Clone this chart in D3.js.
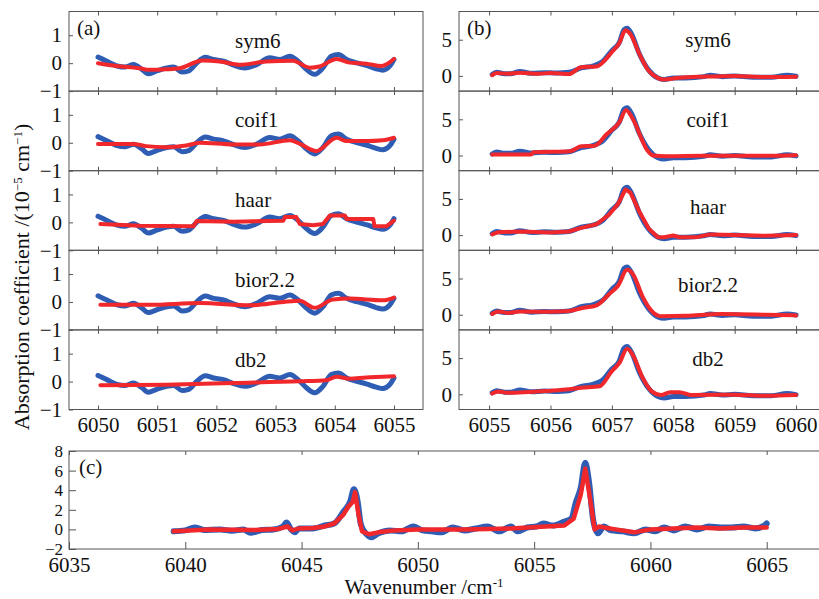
<!DOCTYPE html>
<html>
<head>
<script src="https://cdn.jsdelivr.net/npm/d3@7"></script>
<style>
  body { margin: 0; background: #fff; }
  text { font-family: "Liberation Serif", "Times New Roman", serif; fill: #111; }
</style>
</head>
<body>
<svg id="chart" width="819" height="599"></svg>
<script>
// ---------------- data ----------------
var wavelets = ["sym6", "coif1", "haar", "bior2.2", "db2"];

// panel (a): measured signal, 6050-6055 cm-1
var aWn  = [6050.00,6050.15,6050.32,6050.46,6050.60,6050.74,6050.85,6050.99,6051.16,6051.28,6051.42,6051.53,6051.67,6051.81,6051.95,6052.12,6052.29,6052.48,6052.68,6052.90,6053.07,6053.24,6053.38,6053.52,6053.66,6053.80,6053.94,6054.06,6054.20,6054.37,6054.53,6054.70,6054.81,6054.93,6055.00];
var aRaw = [0.22,0.07,-0.10,-0.14,-0.05,-0.22,-0.38,-0.28,-0.17,-0.14,-0.32,-0.28,0.01,0.21,0.13,0.07,-0.07,-0.17,-0.05,0.19,0.13,0.25,0.07,-0.22,-0.40,-0.17,0.25,0.31,0.13,0.01,-0.08,-0.20,-0.25,-0.10,0.13];

// panel (a): denoised signal for each wavelet [wavenumber, value]
var aSym6  = [[6050.00,0.00],[6050.31,-0.10],[6050.70,-0.18],[6050.87,-0.24],[6051.15,-0.22],[6051.38,-0.18],[6051.77,0.10],[6052.06,0.06],[6052.39,-0.06],[6052.84,0.06],[6053.29,0.09],[6053.58,-0.16],[6053.74,-0.12],[6054.03,0.15],[6054.25,0.02],[6054.53,-0.02],[6054.79,-0.10],[6055.00,0.15]];
var aCoif1 = [[6050.00,-0.04],[6050.59,-0.04],[6050.81,-0.12],[6051.15,-0.16],[6051.49,-0.10],[6051.72,0.00],[6052.28,-0.06],[6052.73,-0.06],[6053.24,0.09],[6053.41,-0.04],[6053.69,-0.30],[6054.03,0.18],[6054.20,0.06],[6054.53,0.06],[6054.81,0.09],[6055.00,0.18]];
var aHaar  = [[6050.04,-0.06],[6050.71,-0.12],[6051.61,-0.14],[6051.67,0.05],[6052.29,0.02],[6053.13,0.06],[6053.16,0.19],[6053.35,0.19],[6053.41,-0.06],[6053.63,-0.10],[6053.80,-0.06],[6053.92,0.25],[6054.17,0.25],[6054.20,0.12],[6054.65,0.12],[6054.67,-0.14],[6054.87,-0.14],[6055.00,0.06]];
var aBior22 = [[6050.04,-0.10],[6050.88,-0.10],[6051.72,-0.04],[6052.57,-0.12],[6053.13,0.00],[6053.41,0.04],[6053.66,-0.21],[6053.97,0.09],[6054.25,0.12],[6054.81,0.06],[6055.00,0.16]];
var aDb2   = [[6050.04,-0.13],[6051.16,-0.11],[6052.29,-0.05],[6053.41,0.01],[6053.86,0.05],[6054.03,0.17],[6054.25,0.10],[6054.53,0.15],[6054.81,0.17],[6055.00,0.19]];

// panel (b): measured signal, 6055-6060 cm-1
var bWn  = [6055.05,6055.12,6055.25,6055.35,6055.50,6055.70,6055.90,6056.10,6056.30,6056.50,6056.70,6056.85,6057.00,6057.12,6057.20,6057.25,6057.32,6057.45,6057.60,6057.75,6057.85,6058.00,6058.20,6058.50,6058.60,6058.80,6059.00,6059.30,6059.60,6059.85,6060.00];
var bRaw = [0.20,0.50,0.30,0.30,0.60,0.35,0.45,0.40,0.50,1.10,1.40,2.00,3.50,4.60,6.40,6.60,5.80,3.00,0.80,-0.30,-0.50,-0.30,-0.30,-0.10,0.10,-0.10,0.00,-0.20,-0.20,0.10,-0.05];

// panel (b): denoised signal for each wavelet
var bSym6  = [[6055.05,0.10],[6055.12,0.40],[6055.30,0.30],[6055.50,0.45],[6055.80,0.30],[6056.00,0.40],[6056.30,0.25],[6056.50,1.20],[6056.75,1.30],[6056.90,2.30],[6057.00,3.30],[6057.12,4.50],[6057.22,6.30],[6057.30,5.80],[6057.45,3.00],[6057.60,0.70],[6057.75,-0.30],[6057.85,-0.50],[6058.10,-0.25],[6058.50,-0.10],[6059.00,0.00],[6059.50,-0.15],[6060.00,-0.10]];
var bCoif1 = [[6055.05,0.14],[6055.17,0.14],[6055.69,0.14],[6055.72,0.45],[6056.32,0.60],[6056.50,1.27],[6056.72,1.36],[6056.91,2.90],[6057.13,4.70],[6057.23,6.30],[6057.35,4.90],[6057.57,0.80],[6057.67,0.00],[6057.89,-0.10],[6058.50,-0.05],[6059.20,-0.05],[6060.00,0.05]];
var bHaar  = [[6055.05,0.10],[6055.15,0.40],[6055.50,0.50],[6056.00,0.35],[6056.30,0.50],[6056.50,1.00],[6056.75,1.50],[6056.95,2.80],[6057.10,4.30],[6057.22,6.30],[6057.30,5.90],[6057.45,3.20],[6057.60,0.90],[6057.75,-0.30],[6057.85,-0.30],[6058.00,-0.05],[6058.10,-0.30],[6058.40,-0.25],[6058.60,0.10],[6059.00,0.00],[6059.50,-0.10],[6060.00,0.00]];
var bBior22 = [[6055.05,0.10],[6055.15,0.45],[6055.30,0.25],[6055.50,0.45],[6056.00,0.40],[6056.30,0.50],[6056.50,0.90],[6056.75,1.30],[6056.95,2.80],[6057.10,4.00],[6057.25,6.20],[6057.35,5.50],[6057.50,2.50],[6057.65,0.50],[6057.80,-0.20],[6058.20,-0.15],[6058.80,0.10],[6059.50,0.00],[6060.00,-0.10]];
var bDb2   = [[6055.05,0.10],[6055.15,0.40],[6055.30,0.20],[6056.00,0.50],[6056.30,0.70],[6056.50,0.90],[6056.80,1.10],[6057.00,3.20],[6057.12,4.30],[6057.25,6.30],[6057.35,5.30],[6057.50,2.30],[6057.65,0.40],[6057.80,-0.10],[6057.95,0.30],[6058.10,0.30],[6058.30,-0.10],[6059.00,-0.05],[6059.50,-0.20],[6060.00,-0.10]];

// panel (c): full range
var cRaw = [[6039.5,-0.2],[6040.0,-0.1],[6040.4,0.2],[6040.8,-0.05],[6041.5,0.0],[6042.0,-0.15],[6042.5,0.0],[6042.8,-0.35],[6043.3,-0.05],[6043.8,0.0],[6044.2,0.3],[6044.35,0.7],[6044.55,0.0],[6044.7,-0.3],[6044.9,0.1],[6045.5,0.1],[6046.0,0.4],[6046.4,0.6],[6046.8,1.8],[6047.1,2.9],[6047.25,4.1],[6047.4,3.0],[6047.55,0.5],[6047.8,-0.5],[6048.0,-0.8],[6048.3,-0.4],[6048.8,-0.1],[6049.3,-0.2],[6049.8,0.3],[6050.2,-0.1],[6050.6,-0.2],[6051.0,-0.3],[6051.5,0.2],[6052.0,-0.1],[6052.5,0.1],[6053.0,0.3],[6053.5,-0.2],[6054.0,0.3],[6054.3,-0.2],[6054.7,0.2],[6055.1,0.3],[6055.4,0.6],[6055.8,0.4],[6056.3,0.8],[6056.6,1.1],[6056.8,2.8],[6057.0,4.2],[6057.2,6.8],[6057.35,5.0],[6057.55,0.8],[6057.75,-0.4],[6058.0,0.3],[6058.3,-0.1],[6058.8,-0.2],[6059.3,-0.4],[6059.8,0.0],[6060.2,-0.2],[6060.6,0.2],[6061.0,-0.1],[6061.5,0.3],[6062.0,0.0],[6062.5,0.3],[6063.0,0.2],[6063.5,0.2],[6064.0,0.3],[6064.5,0.1],[6064.9,0.4],[6065.0,0.6]];
var cDen = [[6039.5,-0.2],[6040.0,-0.15],[6041.0,0.0],[6043.0,-0.05],[6044.0,0.05],[6044.4,0.3],[6044.6,-0.1],[6044.9,0.1],[6045.5,0.15],[6046.0,0.3],[6046.4,0.6],[6046.8,1.5],[6047.0,2.3],[6047.2,2.8],[6047.3,3.8],[6047.45,1.5],[6047.6,-0.2],[6047.9,-0.5],[6048.3,-0.3],[6049.0,-0.1],[6050.0,0.0],[6052.0,0.0],[6054.0,0.1],[6055.5,0.3],[6056.3,0.4],[6056.7,1.1],[6057.0,3.5],[6057.2,6.2],[6057.4,3.2],[6057.6,0.0],[6057.8,0.3],[6058.0,0.2],[6058.5,0.0],[6059.3,-0.3],[6060.0,0.0],[6061.0,0.1],[6062.0,0.2],[6063.0,0.1],[6064.0,0.2],[6065.0,0.2]];

// tick values
var aXTicks = [6050, 6051, 6052, 6053, 6054, 6055];
var aYTicks = [-1, 0, 1];
var bXTicks = [6055, 6056, 6057, 6058, 6059, 6060];
var bYTicks = [0, 5];
var cXTicks = [6035, 6040, 6045, 6050, 6055, 6060, 6065];
var cYTicks = [-2, 0, 2, 4, 6, 8];

// ---------------- drawing ----------------
var svg = d3.select("#chart");
var BLUE = "#2f5db4", RED = "#f0282c", FRAME = "#555";
var fmt = function (d) { return d < 0 ? "\u2212" + Math.abs(d) : String(d); };

function styleAxis(g, size) {
  g.select(".domain").remove();
  g.selectAll(".tick line").attr("stroke", FRAME);
  g.attr("font-size", size || 21).attr("font-family", "Liberation Serif");
}

function drawCurves(g, x, y, raw, den, stepLike, wBlue, wRed) {
  var smooth = d3.line().x(d => x(d[0])).y(d => y(d[1])).curve(d3.curveMonotoneX);
  var sharp = d3.line().x(d => x(d[0])).y(d => y(d[1]));
  g.append("path").datum(raw).attr("d", smooth)
    .attr("fill", "none").attr("stroke", BLUE).attr("stroke-width", wBlue)
    .attr("stroke-linecap", "round").attr("stroke-linejoin", "round");
  g.append("path").datum(den).attr("d", stepLike ? sharp : smooth)
    .attr("fill", "none").attr("stroke", RED).attr("stroke-width", wRed)
    .attr("stroke-linecap", "round").attr("stroke-linejoin", "round");
}

function drawStack(cfg) {
  var n = wavelets.length;
  var h = (cfg.bottom - cfg.top) / n;
  var x = d3.scaleLinear().domain(cfg.xDomain).range([cfg.left, cfg.right]);
  var raw = d3.zip(cfg.wn, cfg.raw);

  wavelets.forEach(function (name, i) {
    var top = cfg.top + i * h;
    var y = d3.scaleLinear().domain(cfg.yDomain).range([top + h, top]);
    var last = i === n - 1;
    var g = svg.append("g");

    g.append("rect").attr("x", cfg.left).attr("y", top)
      .attr("width", cfg.right - cfg.left).attr("height", h)
      .attr("fill", "none").attr("stroke", FRAME).attr("stroke-width", 1);

    g.append("g").attr("transform", "translate(" + cfg.left + ",0)")
      .call(d3.axisLeft(y).tickValues(cfg.yTicks).tickSize(-4).tickPadding(7).tickFormat(fmt))
      .call(styleAxis);
    g.append("g").attr("transform", "translate(0," + (top + h) + ")")
      .call(d3.axisBottom(x).tickValues(cfg.xTicks).tickSize(-4).tickPadding(8)
        .tickFormat(last ? d3.format("d") : ""))
      .call(styleAxis);
    g.append("g").attr("transform", "translate(0," + top + ")")
      .call(d3.axisTop(x).tickValues(cfg.xTicks).tickSize(-4).tickFormat(""))
      .call(styleAxis);

    drawCurves(g, x, y, raw, cfg.den[i], name === "haar", 5, 4);

    g.append("text").attr("x", cfg.nameX).attr("y", top + cfg.nameDy[i])
      .attr("text-anchor", cfg.nameAnchor).attr("font-size", 21).text(name);
  });

  svg.append("text").attr("x", cfg.left + 8).attr("y", cfg.top + 23)
    .attr("font-size", 21).text(cfg.tag);
}

drawStack({
  left: 69, right: 423, top: 11.5, bottom: 409.5,
  xDomain: [6049.51, 6055.49], yDomain: [-1, 1.85],
  xTicks: aXTicks, yTicks: aYTicks,
  wn: aWn, raw: aRaw, den: [aSym6, aCoif1, aHaar, aBior22, aDb2],
  nameX: 235, nameAnchor: "start", nameDy: [36, 36, 36, 37, 37], tag: "(a)"
});

drawStack({
  left: 459, right: 828, top: 11.5, bottom: 409.5,
  xDomain: [6054.51, 6060.52], yDomain: [-2.1, 8.9],
  xTicks: bXTicks, yTicks: bYTicks,
  wn: bWn, raw: bRaw, den: [bSym6, bCoif1, bHaar, bBior22, bDb2],
  nameX: 708, nameAnchor: "middle", nameDy: [35, 36, 43, 42, 36], tag: "(b)"
});

// panel (c)
(function () {
  var left = 69, right = 883, top = 451, bottom = 549;
  var x = d3.scaleLinear().domain([6035, 6070]).range([left, right]);
  var y = d3.scaleLinear().domain([-2, 8]).range([bottom, top]);
  var g = svg.append("g");
  g.append("rect").attr("x", left).attr("y", top).attr("width", right - left).attr("height", bottom - top)
    .attr("fill", "none").attr("stroke", FRAME).attr("stroke-width", 1);
  g.append("g").attr("transform", "translate(" + left + ",0)")
    .call(d3.axisLeft(y).tickValues(cYTicks).tickSize(-7).tickPadding(6).tickFormat(fmt))
    .call(styleAxis, 17);
  g.append("g").attr("transform", "translate(0," + bottom + ")")
    .call(d3.axisBottom(x).tickValues(cXTicks).tickSize(-7).tickPadding(8).tickFormat(d3.format("d")))
    .call(styleAxis);
  g.append("g").attr("transform", "translate(0," + top + ")")
    .call(d3.axisTop(x).tickValues(cXTicks).tickSize(-4).tickFormat(""))
    .call(styleAxis);
  drawCurves(g, x, y, cRaw, cDen, true, 6, 4.5);
  svg.append("text").attr("x", 79).attr("y", 474).attr("font-size", 21).text("(c)");
})();

// axis titles
var yTitle = svg.append("text").attr("font-size", 22).attr("text-anchor", "middle")
  .attr("transform", "translate(29,277) rotate(-90)");
yTitle.append("tspan").text("Absorption coefficient /(10");
yTitle.append("tspan").attr("baseline-shift", "super").attr("font-size", 13).text("\u22125");
yTitle.append("tspan").text(" cm");
yTitle.append("tspan").attr("baseline-shift", "super").attr("font-size", 13).text("\u22121");
yTitle.append("tspan").text(")");

var xTitle = svg.append("text").attr("font-size", 21).attr("text-anchor", "middle")
  .attr("x", 424).attr("y", 594);
xTitle.append("tspan").text("Wavenumber /cm");
xTitle.append("tspan").attr("baseline-shift", "super").attr("font-size", 13).text("-1");
</script>
</body>
</html>
